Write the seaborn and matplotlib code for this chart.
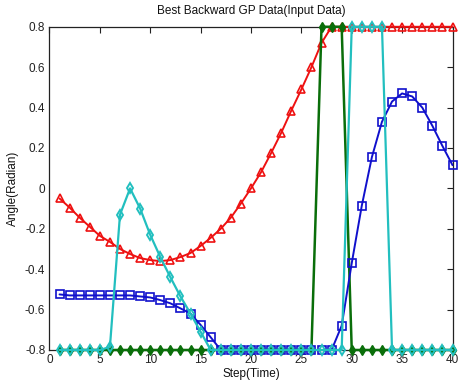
import matplotlib
matplotlib.use("Agg")
import matplotlib.pyplot as plt
import seaborn as sns
import pandas as pd

steps = list(range(1, 41))

red_vals = [-0.05, -0.095, -0.145, -0.19, -0.235, -0.265, -0.30, -0.325, -0.345, -0.355,
            -0.36, -0.355, -0.34, -0.32, -0.285, -0.245, -0.20, -0.145, -0.075, 0.0,
            0.08, 0.175, 0.275, 0.385, 0.49, 0.60, 0.72, 0.8, 0.8, 0.8,
            0.8, 0.8, 0.8, 0.8, 0.8, 0.8, 0.8, 0.8, 0.8, 0.8]

blue_vals = [-0.525, -0.53, -0.53, -0.53, -0.53, -0.53, -0.53, -0.53, -0.535, -0.54,
             -0.553, -0.569, -0.594, -0.62, -0.676, -0.737, -0.8, -0.8, -0.8, -0.8,
             -0.8, -0.8, -0.8, -0.8, -0.8, -0.8, -0.8, -0.8, -0.68, -0.37,
             -0.085, 0.155, 0.33, 0.43, 0.47, 0.455, 0.40, 0.31, 0.21, 0.115]

cyan_vals = [-0.8, -0.8, -0.8, -0.8, -0.8, -0.785, -0.13, 0.0, -0.10, -0.23,
             -0.34, -0.44, -0.535, -0.62, -0.71, -0.8, -0.8, -0.8, -0.8, -0.8,
             -0.8, -0.8, -0.8, -0.8, -0.8, -0.8, -0.8, -0.8, -0.8, 0.8,
             0.8, 0.8, 0.8, -0.8, -0.8, -0.8, -0.8, -0.8, -0.8, -0.8]

green_vals = [-0.8] * 26 + [0.8, 0.8, 0.8] + [-0.8] * 11

x_ticks = [0, 5, 10, 15, 20, 25, 30, 35, 40]
y_ticks = [-0.8, -0.6, -0.4, -0.2, 0, 0.2, 0.4, 0.6, 0.8]
y_tick_labels = ["-0.8", "-0.6", "-0.4", "-0.2", "0", "0.2", "0.4", "0.6", "0.8"]

sns.set_theme(style="white")
plt.rcParams['font.family'] = ['Liberation Sans', 'DejaVu Sans']

fig = plt.figure(figsize=(4.58, 3.88), dpi=100)
ax = fig.add_axes([0.108, 0.098, 0.880, 0.833])

df = pd.DataFrame({"step": steps, "red": red_vals, "blue": blue_vals,
                   "cyan": cyan_vals, "green": green_vals})

sns.lineplot(data=df, x="step", y="red", ax=ax, color="#EE1111", linewidth=1.4,
             marker="^", markersize=6, markerfacecolor="none",
             markeredgecolor="#EE1111", markeredgewidth=1.2, zorder=3, clip_on=False)
sns.lineplot(data=df, x="step", y="green", ax=ax, color="#0A6E0A", linewidth=1.8,
             marker="d", markersize=5, markerfacecolor="#0A6E0A",
             markeredgecolor="#0A6E0A", markeredgewidth=1.0, zorder=4, clip_on=False)
sns.lineplot(data=df, x="step", y="blue", ax=ax, color="#1010CC", linewidth=1.4,
             marker="s", markersize=6, markerfacecolor="none",
             markeredgecolor="#1010CC", markeredgewidth=1.2, zorder=5, clip_on=False)
sns.lineplot(data=df, x="step", y="cyan", ax=ax, color="#22BFBF", linewidth=1.6,
             marker="d", markersize=5.5, markerfacecolor="none",
             markeredgecolor="#22BFBF", markeredgewidth=1.4, zorder=6, clip_on=False)

ax.set_xlim(0, 40)
ax.set_ylim(-0.8, 0.8)
ax.set_xticks(x_ticks)
ax.set_yticks(y_ticks)
ax.set_yticklabels(y_tick_labels)
ax.tick_params(direction="in", length=4, width=0.8, labelsize=8.5, colors="#222222",
               top=True, right=True, pad=3)
for s in ax.spines.values():
    s.set_visible(True)
    s.set_color("#222222")
    s.set_linewidth(0.9)
    s.set_zorder(2)

ax.set_title("Best Backward GP Data(Input Data)", fontsize=8.5, pad=9, color="#111111")
ax.set_xlabel("Step(Time)", fontsize=8.5, labelpad=1, color="#111111")
ax.set_ylabel("Angle(Radian)", fontsize=8.5, labelpad=4, color="#111111")

fig.savefig("out.png", dpi=100)
